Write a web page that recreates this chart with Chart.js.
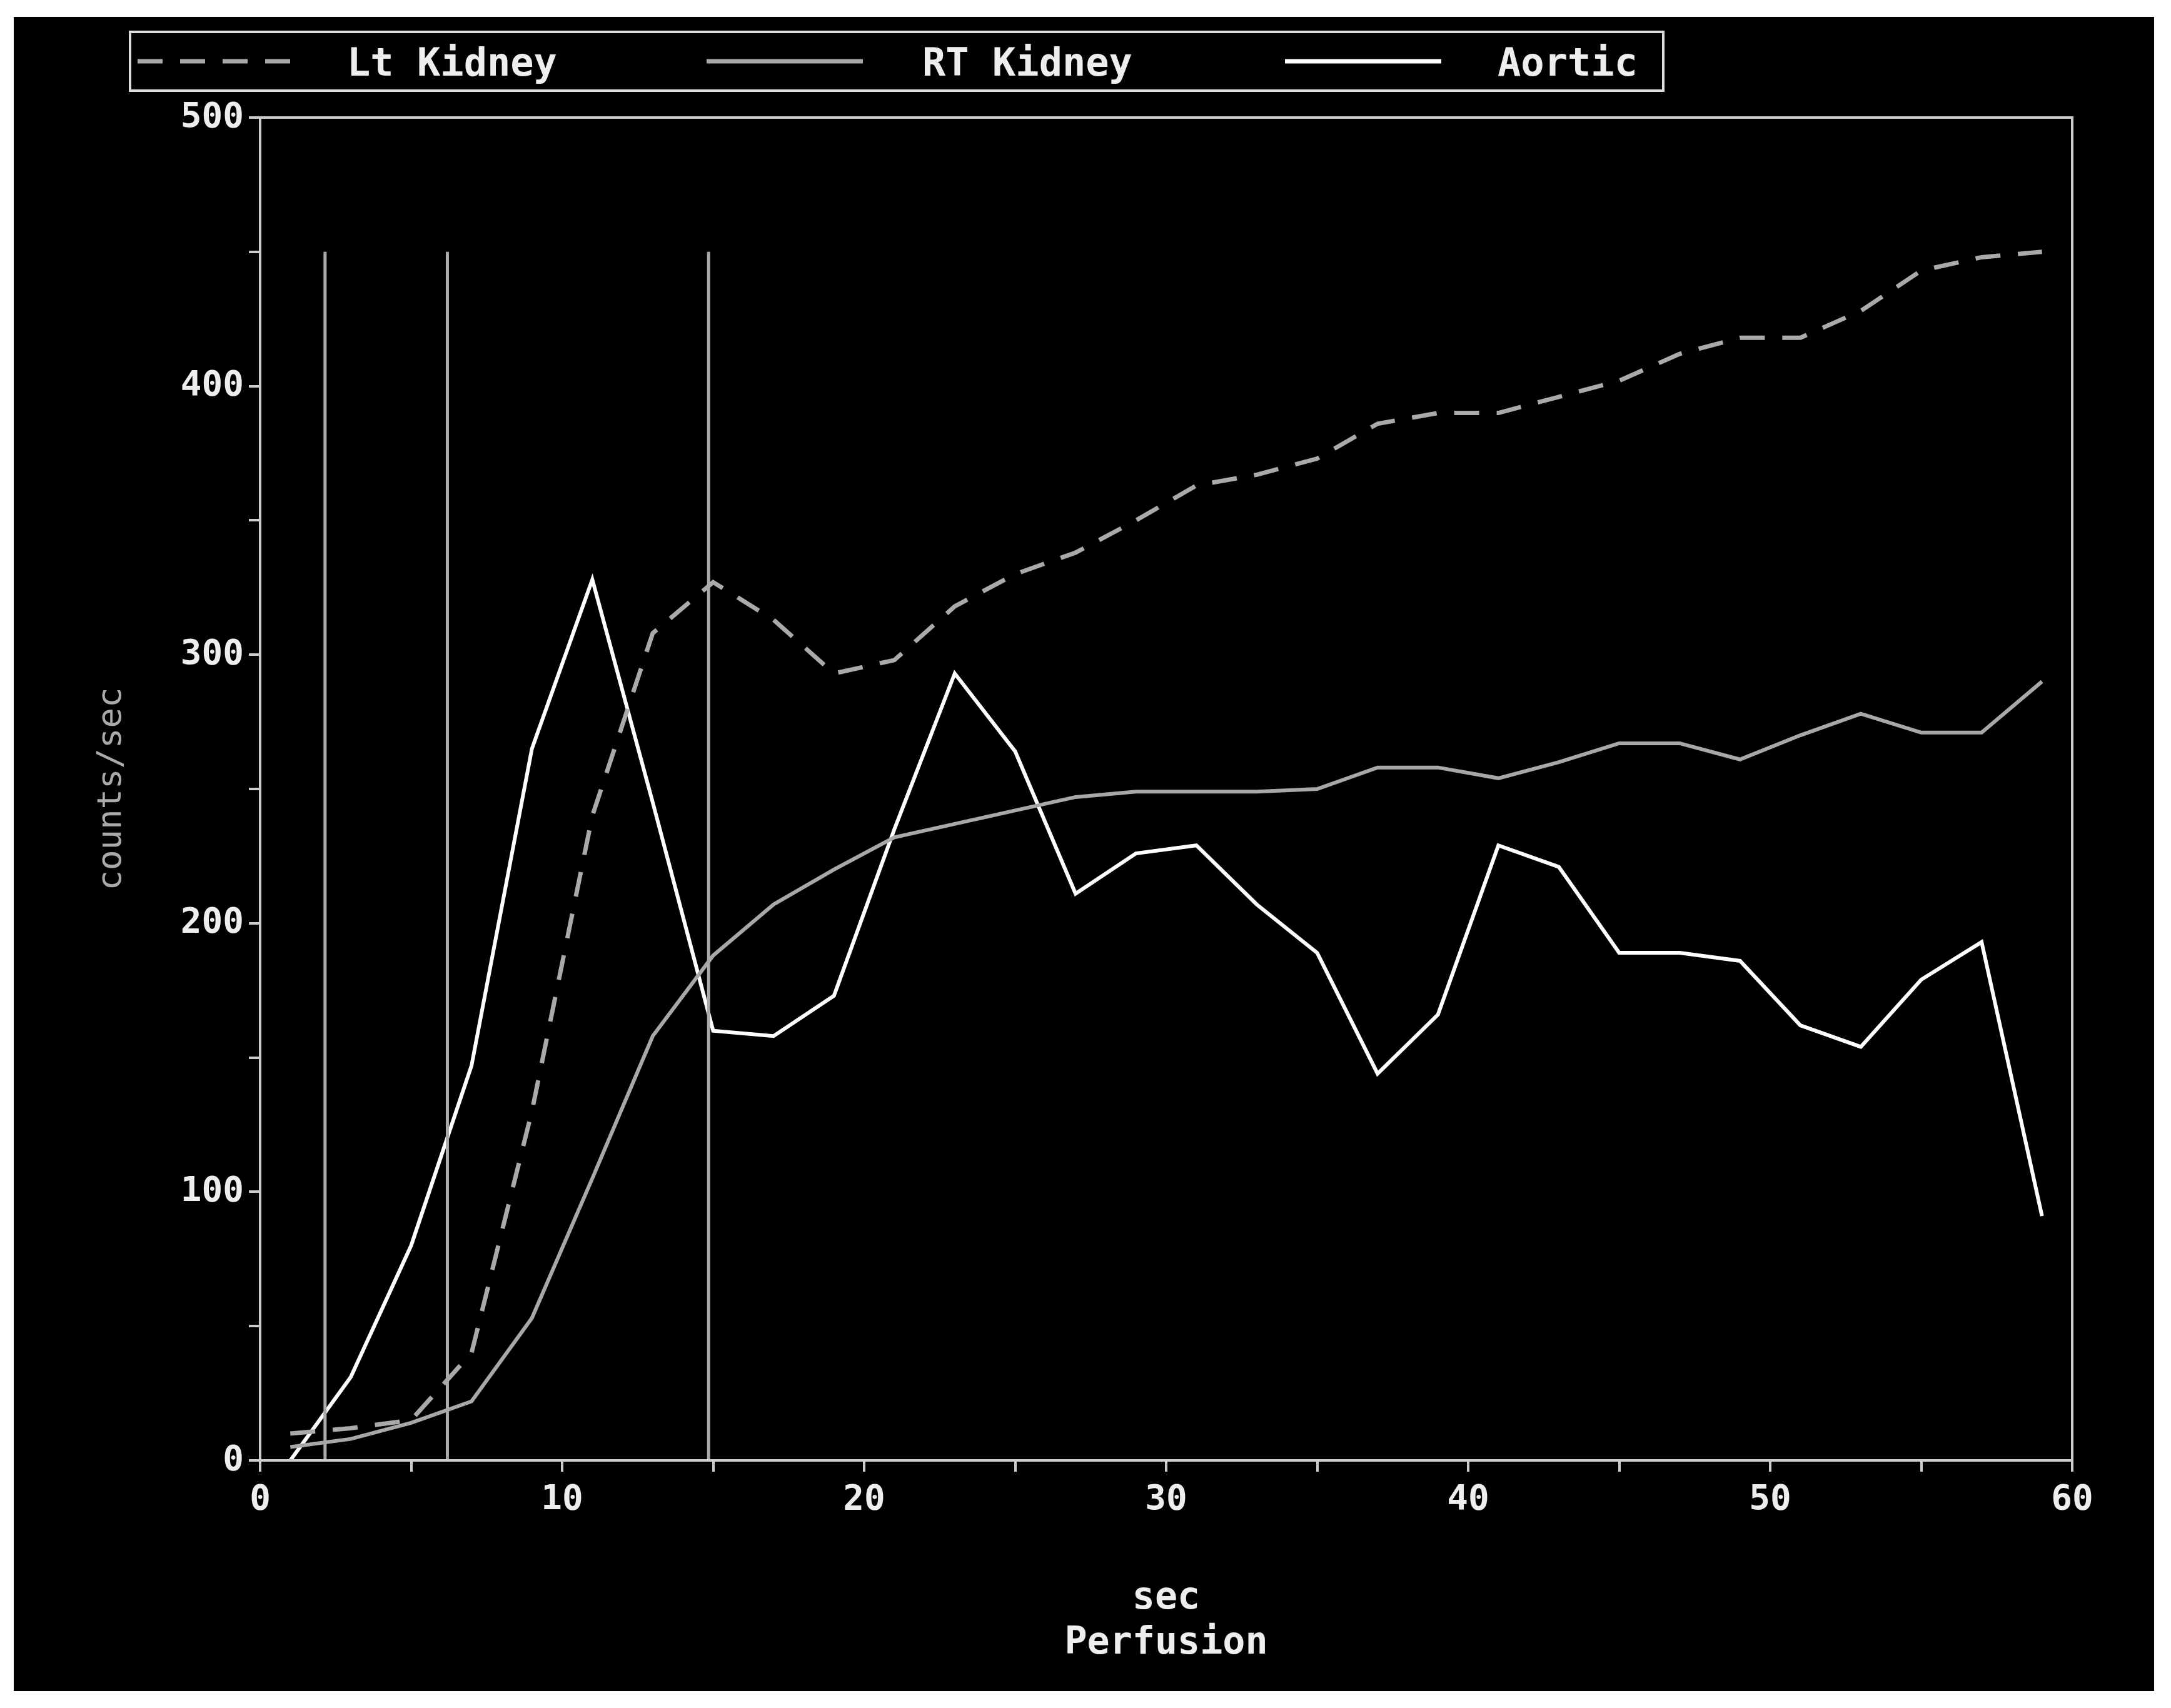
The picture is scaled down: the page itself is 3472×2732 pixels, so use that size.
<!DOCTYPE html>
<html><head><meta charset="utf-8">
<script src="https://cdn.jsdelivr.net/npm/chart.js@4"></script>
<style>
html,body{margin:0;padding:0;background:#fff;width:3472px;height:2732px;overflow:hidden;font-family:"DejaVu Sans Mono",monospace;}
#box{position:absolute;left:22px;top:27px;width:3423px;height:2678px;background:#000;}
#c{position:absolute;left:0;top:0;}
#legend{position:absolute;left:184px;top:22px;width:2456px;height:98px;border:4px solid #ddd;box-sizing:border-box;color:#eee;font-weight:bold;font-size:62px;}
#legend span{position:absolute;top:10px;}
#legend svg{position:absolute;top:40px;}
</style></head><body>
<div id="box"><canvas id="c" width="3423" height="2678"></canvas>
<div id="legend">
<svg style="left:10px" width="270" height="10"><line x1="0" y1="5" x2="270" y2="5" stroke="#aaa" stroke-width="7" stroke-dasharray="40,28"/></svg>
<span style="left:345px">Lt Kidney</span>
<svg style="left:920px" width="250" height="10"><line x1="0" y1="5" x2="250" y2="5" stroke="#a8a8a8" stroke-width="7"/></svg>
<span style="left:1265px">RT Kidney</span>
<svg style="left:1845px" width="250" height="10"><line x1="0" y1="5" x2="250" y2="5" stroke="#fff" stroke-width="7"/></svg>
<span style="left:2185px">Aortic</span>
</div></div>
<script>
const seconds=[1,3,5,7,9,11,13,15,17,19,21,23,25,27,29,31,33,35,37,39,41,43,45,47,49,51,53,55,57,59];
const ltKidney=[10,12,15,40,130,240,308,327,313,293,298,318,330,338,350,363,367,373,386,390,390,396,402,412,418,418,428,443,448,450];
const rtKidney=[5,8,14,22,53,105,158,188,207,220,232,237,242,247,249,249,249,250,258,258,254,260,267,267,261,270,278,271,271,290];
const aortic=[0,31,80,147,265,328,245,160,158,173,235,293,264,211,226,229,207,189,144,166,229,221,189,189,186,162,154,179,193,91];
const markers=[2.15,6.2,14.85];
const markerTop=450;
const xTicks=[0,10,20,30,40,50,60];
const yTicks=[0,100,200,300,400,500];
const pts=a=>seconds.map((s,i)=>({x:s,y:a[i]}));
const ds=[];
markers.forEach(m=>ds.push({data:[{x:m,y:0},{x:m,y:markerTop}],borderColor:'#aaa',borderWidth:5,pointRadius:0}));
ds.push({label:'Lt Kidney',data:pts(ltKidney),borderColor:'#aaa',borderWidth:7,borderDash:[40,28],pointRadius:0});
ds.push({label:'RT Kidney',data:pts(rtKidney),borderColor:'#a8a8a8',borderWidth:6,pointRadius:0});
ds.push({label:'Aortic',data:pts(aortic),borderColor:'#fff',borderWidth:6,pointRadius:0});
const font={family:'"DejaVu Sans Mono", monospace',size:56,weight:'bold'};
const frame={id:'frame',afterDatasetsDraw(ch){const a=ch.chartArea,c=ch.ctx;c.save();c.strokeStyle='#ccc';c.lineWidth=4;c.strokeRect(a.left,a.top,a.right-a.left,a.bottom-a.top);c.restore();}};
new Chart(document.getElementById('c'),{type:'line',data:{datasets:ds},plugins:[frame],
options:{responsive:false,animation:false,events:[],
layout:{padding:{top:161,right:131,left:0,bottom:0}},
plugins:{legend:{display:false},tooltip:{enabled:false}},
scales:{
x:{type:'linear',min:0,max:60,afterFit(s){s.height=369;},
 ticks:{stepSize:5,color:'#eee',font,padding:12,callback:v=>xTicks.includes(v)?String(v):''},
 grid:{drawOnChartArea:false,color:'#ccc',tickLength:18,lineWidth:4},border:{color:'#ccc',width:4},
 title:{display:true,text:['sec','Perfusion'],color:'#eee',font:{...font,size:60},padding:{top:30,bottom:40},lineHeight:1.3}},
y:{min:0,max:500,afterFit(s){s.width=394;},
 ticks:{stepSize:50,color:'#eee',font,padding:8,callback:v=>yTicks.includes(v)?String(v):''},
 grid:{drawOnChartArea:false,color:'#ccc',tickLength:18,lineWidth:4},border:{color:'#ccc',width:4},
 title:{display:true,text:'counts/sec',color:'#aaa',font:{...font,size:54,weight:'normal'},padding:{top:125,bottom:0}}}
}}});
</script></body></html>
